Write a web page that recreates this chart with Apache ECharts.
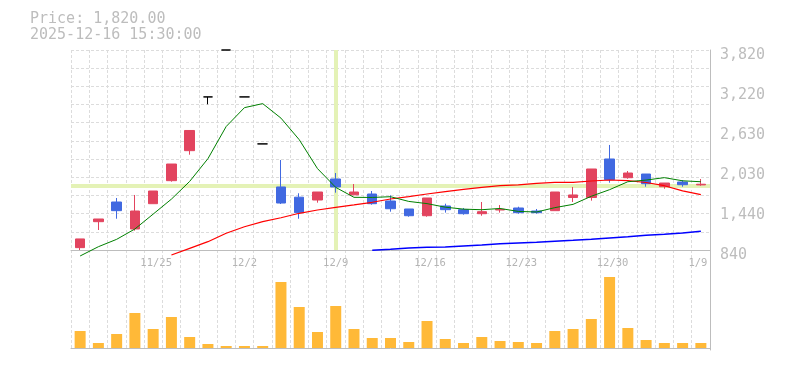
<!DOCTYPE html>
<html><head><meta charset="utf-8">
<script src="https://cdn.jsdelivr.net/npm/echarts@6/dist/echarts.min.js"></script>
<style>html,body{margin:0;padding:0;background:#fff}#c{width:785px;height:370px}</style>
</head><body><div id="c"></div>
<script>
const dates = ['11/18','11/19','11/20','11/21','11/25','11/26','11/27','11/28','12/1','12/2','12/3','12/4','12/5','12/8','12/9','12/10','12/11','12/12','12/15','12/16','12/17','12/18','12/19','12/22','12/23','12/24','12/25','12/26','12/29','12/30','1/5','1/6','1/7','1/8','1/9'];
const opens  = [875,1262,1555,1153,1530,1873,2320,3121,3820,3121,2421,1779,1627,1585,1898,1662,1674,1570,1451,1351,1496,1441,1381,1436,1466,1421,1426,1622,1622,2196,1917,1972,1783,1853,1810];
const closes = [1005,1302,1426,1421,1719,2121,2621,3121,3820,3121,2421,1540,1397,1704,1779,1704,1530,1455,1351,1615,1441,1381,1411,1446,1396,1396,1704,1660,2047,1888,1987,1828,1838,1813,1820];
const lows   = [840,1138,1306,1128,1530,1858,2260,3011,3820,3121,2421,1525,1306,1545,1694,1662,1515,1411,1336,1336,1397,1366,1351,1397,1381,1381,1426,1555,1575,1843,1902,1783,1753,1783,1798];
const highs  = [1005,1302,1615,1660,1719,2121,2621,3121,3820,3121,2421,2181,1685,1704,1987,1823,1719,1655,1451,1615,1530,1466,1555,1510,1485,1451,1704,1779,2047,2405,2017,1972,1838,1883,1898];
const volumes = [170,50,140,350,190,310,110,40,20,20,20,660,410,160,420,190,100,100,60,270,90,50,110,70,60,50,170,190,290,710,200,80,50,50,50];
const ma5  = [751,889,999,1153,1375,1598,1862,2201,2680,2961,3021,2805,2484,2053,1773,1625,1623,1634,1564,1531,1478,1449,1440,1459,1415,1406,1471,1520,1641,1739,1857,1882,1918,1871,1857];
const ma25 = ['-','-','-','-','-',765,865,964,1089,1187,1262,1321,1387,1436,1476,1511,1551,1600,1634,1674,1709,1744,1774,1798,1809,1834,1849,1849,1868,1883,1873,1846,1798,1720,1665];
const ma75 = ['-','-','-','-','-','-','-','-','-','-','-','-','-','-','-','-',835,850,870,880,885,900,915,934,944,955,970,984,999,1019,1038,1059,1074,1093,1119];
const xTickLabels = ['11/25','12/2','12/9','12/16','12/23','12/30','1/9'];
const yTickLabels = ['840','1,440','2,030','2,630','3,220','3,820'];
const priceMin = 840, priceMax = 3820;
const crossDate = '12/9', crossPrice = 1795;
const titleLines = ['Price: 1,820.00', '2025-12-16 15:30:00'];

const FONT = 'DejaVu Sans Mono';
const UP = '#e2445f', DOWN = '#4169e1', FLAT = '#000000';
const GRIDC = '#dcdcdc', AXISC = '#bdbdbd', TXT = '#bdbdbd';

const candleData = dates.map((d, i) => {
  const o = opens[i], c = closes[i];
  const item = { value: [o, c, lows[i], highs[i]] };
  if (o === c) item.itemStyle = { color: FLAT, color0: FLAT, borderColor: FLAT, borderColor0: FLAT, borderColorDoji: FLAT };
  return item;
});

const dashed = { show: true, interval: 0, lineStyle: { color: GRIDC, type: [3, 2], width: 1 } };

const chart = echarts.init(document.getElementById('c'), null, { renderer: 'canvas' });
chart.setOption({
  animation: false,
  backgroundColor: '#ffffff',
  title: {
    text: titleLines.join('\n'), left: 25, top: 6,
    textStyle: { fontFamily: FONT, fontSize: 15, color: TXT, fontWeight: 'normal', lineHeight: 16 }
  },
  grid: [
    { left: 71, right: 75, top: 50, height: 200 },
    { left: 71, right: 75, top: 250, height: 100 }
  ],
  xAxis: [
    {
      type: 'category', gridIndex: 0, data: dates, boundaryGap: true,
      axisLine: { show: true, lineStyle: { color: AXISC } },
      axisTick: { show: false },
      axisLabel: {
        interval: (i, v) => xTickLabels.includes(v),
        formatter: v => '{p' + v.length + '|' + v + '}',
        margin: 8, color: '#b4b4b4', fontFamily: FONT, fontSize: 10.5,
        rich: {
          p3: { fontFamily: FONT, fontSize: 10.5, color: '#b4b4b4', padding: [0, 6, 0, 0] },
          p4: { fontFamily: FONT, fontSize: 10.5, color: '#b4b4b4' },
          p5: { fontFamily: FONT, fontSize: 10.5, color: '#b4b4b4', padding: [0, 0, 0, 6] }
        }
      },
      splitLine: dashed
    },
    {
      type: 'category', gridIndex: 1, data: dates, boundaryGap: true,
      axisLine: { show: true, lineStyle: { color: AXISC } },
      axisTick: { show: false }, axisLabel: { show: false },
      splitLine: dashed
    }
  ],
  yAxis: [
    {
      type: 'value', gridIndex: 0, min: priceMin, max: priceMax, position: 'right',
      axisLine: { show: true, lineStyle: { color: AXISC } },
      axisTick: { show: false }, axisLabel: { show: false }, splitLine: { show: false }
    },
    {
      type: 'value', gridIndex: 0, min: 0, max: 11, interval: 1, position: 'right',
      axisLine: { show: false }, axisTick: { show: false }, axisLabel: { show: false },
      splitLine: { show: true, lineStyle: { color: GRIDC, type: [3, 2], width: 1 } }
    },
    {
      type: 'value', gridIndex: 0, min: 0, max: 5, interval: 1, position: 'right',
      axisLine: { show: false }, axisTick: { show: false }, splitLine: { show: false },
      axisLabel: {
        formatter: v => yTickLabels[v], margin: 10, color: TXT,
        fontFamily: FONT, fontSize: 15, verticalAlign: 'top', lineHeight: 10
      }
    },
    {
      type: 'value', gridIndex: 1, min: -20, max: 980, position: 'right',
      axisLine: { show: true, lineStyle: { color: AXISC } },
      axisTick: { show: false }, axisLabel: { show: false }, splitLine: { show: false }
    }
  ],
  series: [
    {
      type: 'candlestick', xAxisIndex: 0, yAxisIndex: 0, data: candleData,
      barWidth: 10, z: 3, clip: false,
      itemStyle: { color: UP, color0: DOWN, borderColor: UP, borderColor0: DOWN, borderColorDoji: FLAT, borderWidth: 1 },
      emphasis: { disabled: true },
      markLine: {
        silent: true, symbol: ['none', 'none'], z: 1, animation: false,
        label: { show: false },
        lineStyle: { color: '#e4f2b6', width: 4, type: 'solid' },
        data: [{ xAxis: crossDate }, { yAxis: crossPrice }]
      }
    },
    { type: 'line', xAxisIndex: 0, yAxisIndex: 0, data: ma75, symbol: 'none', clip: false, z: 4,
      lineStyle: { color: '#0000ff', width: 1.5 }, emphasis: { disabled: true } },
    { type: 'line', xAxisIndex: 0, yAxisIndex: 0, data: ma25, symbol: 'none', clip: false, z: 4,
      lineStyle: { color: '#ff0000', width: 1.2 }, emphasis: { disabled: true } },
    { type: 'line', xAxisIndex: 0, yAxisIndex: 0, data: ma5, symbol: 'none', clip: false, z: 4,
      lineStyle: { color: '#008000', width: 1 }, emphasis: { disabled: true } },
    { type: 'bar', xAxisIndex: 1, yAxisIndex: 3, data: volumes, barWidth: 11, z: 3,
      itemStyle: { color: '#ffb938' }, emphasis: { disabled: true } }
  ]
});
</script></body></html>
